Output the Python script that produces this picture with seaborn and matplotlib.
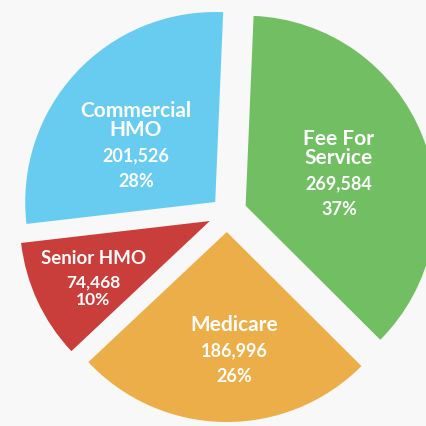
import matplotlib
matplotlib.use("Agg")
import matplotlib.pyplot as plt
import seaborn as sns

# Werte
segmente = ["Fee For\nService", "Medicare", "Senior HMO", "Commercial\nHMO"]
anzahl = [269584, 186996, 74468, 201526]
prozent = ["37%", "26%", "10%", "28%"]
farben = ["#72bf63", "#ebae48", "#c93e3b", "#68ccf1"]

# Layout (nicht Daten)
explode = [0.105, 0.1, 0.1, 0.085]
label_pos = [(0.589, 0.221), (0.037, -0.658), (-0.705, -0.300), (-0.479, 0.368)]
name_size = [15, 15, 13.5, 15]
zahl_size = [13, 13, 12.5, 13]
zahl_gap = [1.6, 1.6, 1.15, 1.6]

sns.set_theme(style="white")
plt.rcParams["font.family"] = ["Lato", "DejaVu Sans"]

fig = plt.figure(figsize=(4.26, 4.26), dpi=100, facecolor="#f8f8f8")
ax = fig.add_axes([0, 0, 1, 1])
ax.set_facecolor("#f8f8f8")

wedges, _ = ax.pie(anzahl, colors=farben, explode=explode, startangle=87.6,
                   counterclock=False, radius=1.0,
                   wedgeprops=dict(linewidth=0))

for i, (x, y) in enumerate(label_pos):
    ax.annotate(segmente[i], (x, y), xytext=(0, 2), textcoords="offset points",
                ha="center", va="bottom", color="white", fontweight="bold",
                fontsize=name_size[i], linespacing=0.95)
    ax.annotate(f"{anzahl[i]:,}\n{prozent[i]}", (x, y), xytext=(0, -3),
                textcoords="offset points", ha="center", va="top",
                color="white", fontweight="bold", fontsize=zahl_size[i],
                linespacing=zahl_gap[i])

ax.set_xlim(-1.195, 1.047)
ax.set_ylim(-1.121, 1.121)
ax.set_aspect("auto")
ax.axis("off")

plt.savefig("out.png", dpi=100, facecolor=fig.get_facecolor())
